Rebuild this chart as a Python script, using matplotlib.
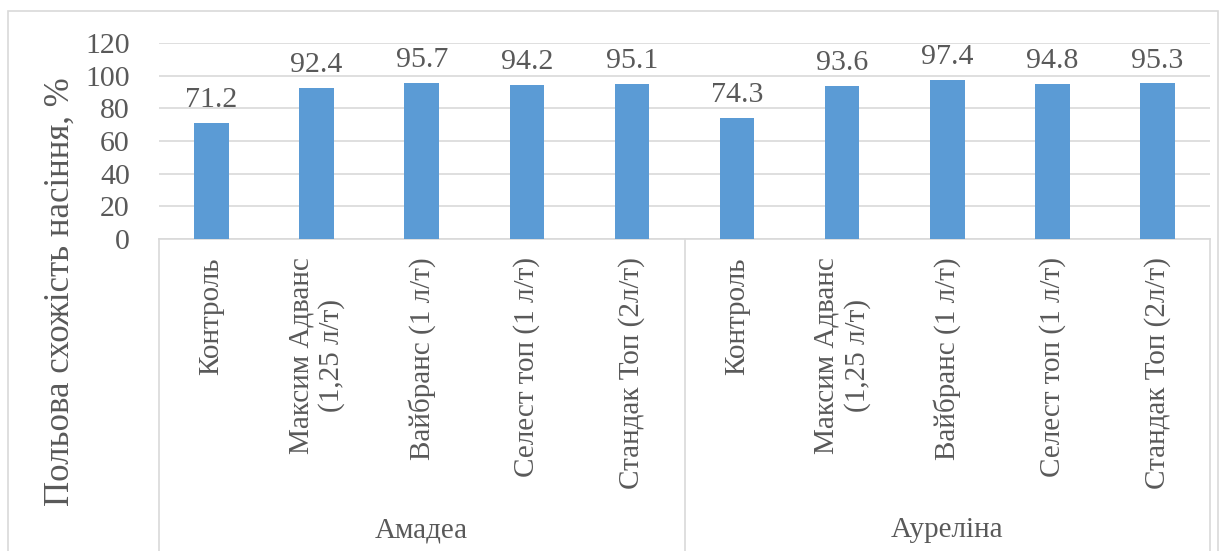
import numpy as np
import matplotlib.pyplot as plt
from matplotlib.patches import Rectangle
from matplotlib.lines import Line2D

plt.rcParams['font.family'] = ['Liberation Serif', 'DejaVu Serif']

# дані
groups = ['Амадеа', 'Ауреліна']
treatments = ['Контроль', 'Максим Адванс\n(1,25 л/т)', 'Вайбранс (1 л/т)',
              'Селест топ (1 л/т)', 'Стандак Топ (2л/т)']
amadea = [71.2, 92.4, 95.7, 94.2, 95.1]
aurelina = [74.3, 93.6, 97.4, 94.8, 95.3]
y_label = 'Польова схожість насіння, %'

values = amadea + aurelina
labels = treatments * len(groups)
x = np.arange(len(values))

txt = '#595959'
grid = '#D9D9D9'

fig = plt.figure(figsize=(12.25, 5.51), dpi=100)
fig.patches.append(Rectangle((8 / 1225, -0.01), 1210 / 1225, 1 - 11 / 551 + 0.01,
                             transform=fig.transFigure, fill=False,
                             edgecolor=grid, linewidth=1.2))

ax = fig.add_axes([159 / 1225, 312 / 551, 1051 / 1225, 196 / 551])
ax.bar(x, values, width=0.33, color='#5B9BD5', zorder=3)
for xi, v in zip(x, values):
    ax.annotate(f'{v:.1f}', (xi, v), xytext=(0, 7), textcoords='offset points',
                ha='center', va='bottom', fontsize=21.5, color=txt)

ax.set_xlim(-0.5, len(values) - 0.5)
ax.set_ylim(0, 120)
ax.set_yticks(np.arange(0, 121, 20))
ax.yaxis.grid(True, color=grid, linewidth=1.2, zorder=0)
ax.set_axisbelow(True)
for s in ['top', 'right', 'left']:
    ax.spines[s].set_visible(False)
ax.spines['bottom'].set_color(grid)
ax.spines['bottom'].set_linewidth(1.2)
ax.tick_params(axis='y', length=0, pad=21, labelsize=21.5, labelcolor=txt)
ax.set_xticks(x)
ax.set_xticklabels(labels, rotation=90, va='top', ha='center',
                   multialignment='center', fontsize=21, color=txt)
ax.tick_params(axis='x', length=0, pad=13)

# роздільники груп і підписи сортів
tr = ax.get_xaxis_transform()
for xs in [-0.5, 4.5, 9.5]:
    ax.add_line(Line2D([xs, xs], [0, -1.6], transform=tr, color=grid,
                       linewidth=1.2, clip_on=False))
for i, g in enumerate(groups):
    ax.text(i * 5 + 2, -1.485, g, transform=tr, ha='center', va='center',
            fontsize=21, color=txt)

fig.text(60 / 1225, 0.47, y_label, rotation=90, ha='center', va='center',
         fontsize=25, color=txt)

fig.savefig('out.png', dpi=100)
